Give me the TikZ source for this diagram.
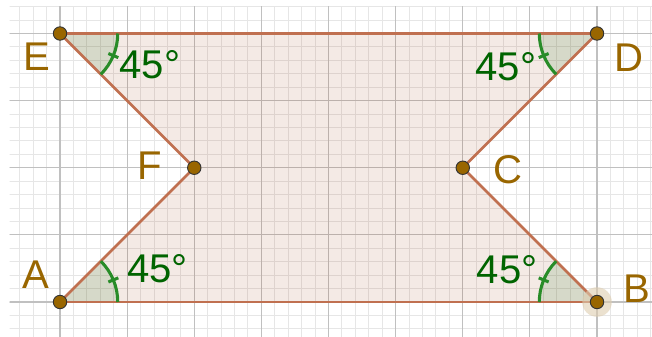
\documentclass[tikz,border=0pt]{standalone}
\usepackage{fontspec}
\setmainfont{Liberation Sans}
\definecolor{gridminor}{RGB}{230,230,230}
\definecolor{gridmajor}{RGB}{192,192,192}
\definecolor{polybrown}{RGB}{153,51,0}
\definecolor{edgecol}{RGB}{192,112,80}
\definecolor{ptcol}{RGB}{153,102,0}
\definecolor{labcol}{RGB}{153,102,0}
\definecolor{anggreen}{RGB}{0,100,0}
\definecolor{arcgreen}{RGB}{40,140,40}
\definecolor{halocol}{RGB}{222,205,175}
\begin{document}
\begin{tikzpicture}[
  minorgrid/.style={draw=gridminor, line width=0.4pt},
  majorgrid/.style={draw=gridmajor, line width=0.5pt},
  edge/.style={draw=edgecol, line width=1.1pt},
  pt/.style={circle, fill=ptcol, draw=black!80, line width=0.4pt, inner sep=0pt, minimum size=0.2cm},
  lab/.style={text=labcol, font=\fontsize{17}{20}\selectfont, inner sep=0pt},
  anglab/.style={text=anggreen, font=\fontsize{17}{20}\selectfont, inner sep=0pt},
  sector/.style={fill=anggreen, fill opacity=0.12},
  arcline/.style={draw=arcgreen, line width=1.3pt},
]
\useasboundingbox (-0.894,-0.5065) rectangle (8.819,4.499);
\fill[white] (-0.894,-0.5065) rectangle (8.819,4.499);
\begin{scope}
  \clip (-0.75,-0.6) rectangle (8.9,4.4);
  \draw[minorgrid, step=0.2] (-1,-1) grid (9,5);
  \draw[majorgrid, step=1] (-1,-1) grid (9,5);
\end{scope}
\coordinate (A) at (0,0);
\coordinate (B) at (8,0);
\coordinate (C) at (6,2);
\coordinate (D) at (8,4);
\coordinate (E) at (0,4);
\coordinate (F) at (2,2);
% polygon fill
\fill[polybrown, fill opacity=0.1] (A) -- (B) -- (C) -- (D) -- (E) -- (F) -- cycle;
% angle sectors
\fill[sector] (A) -- ++(0:0.86) arc[start angle=0, end angle=45, radius=0.86] -- cycle;
\fill[sector] (B) -- ++(135:0.86) arc[start angle=135, end angle=180, radius=0.86] -- cycle;
\fill[sector] (D) -- ++(180:0.86) arc[start angle=180, end angle=225, radius=0.86] -- cycle;
\fill[sector] (E) -- ++(-45:0.86) arc[start angle=-45, end angle=0, radius=0.86] -- cycle;
% edges
\draw[edge] (A) -- (B);
\draw[edge] (B) -- (C);
\draw[edge] (C) -- (D);
\draw[edge] (D) -- (E);
\draw[edge] (E) -- (F);
\draw[edge] (F) -- (A);
% arcs and ticks
\draw[arcline] (A) ++(0:0.86) arc[start angle=0, end angle=45, radius=0.86];
\draw[arcline] (B) ++(135:0.86) arc[start angle=135, end angle=180, radius=0.86];
\draw[arcline] (D) ++(180:0.86) arc[start angle=180, end angle=225, radius=0.86];
\draw[arcline] (E) ++(-45:0.86) arc[start angle=-45, end angle=0, radius=0.86];
\draw[arcline] (A) ++(22.5:0.78) -- ++(22.5:0.16);
\draw[arcline] (B) ++(157.5:0.78) -- ++(157.5:0.16);
\draw[arcline] (D) ++(202.5:0.78) -- ++(202.5:0.16);
\draw[arcline] (E) ++(-22.5:0.78) -- ++(-22.5:0.16);
% halo on B
\fill[halocol, opacity=0.6] (B) circle (0.22);
% points
\node[pt] (pA) at (A) {};
\node[pt] (pB) at (B) {};
\node[pt] (pC) at (C) {};
\node[pt] (pD) at (D) {};
\node[pt] (pE) at (E) {};
\node[pt] (pF) at (F) {};
% labels
\node[lab] (lA) at (-0.36,0.40) {A};
\node[lab] (lB) at (8.60,0.20) {B};
\node[lab] (lC) at (6.68,1.97) {C};
\node[lab] (lD) at (8.48,3.64) {D};
\node[lab] (lE) at (-0.35,3.65) {E};
\node[lab] (lF) at (1.33,2.03) {F};
% angle labels
\node[anglab] (aA) at (1.45,0.49) {45°};
\node[anglab] (aB) at (6.66,0.48) {45°};
\node[anglab] (aD) at (6.64,3.50) {45°};
\node[anglab] (aE) at (1.34,3.53) {45°};
\end{tikzpicture}
\end{document}
